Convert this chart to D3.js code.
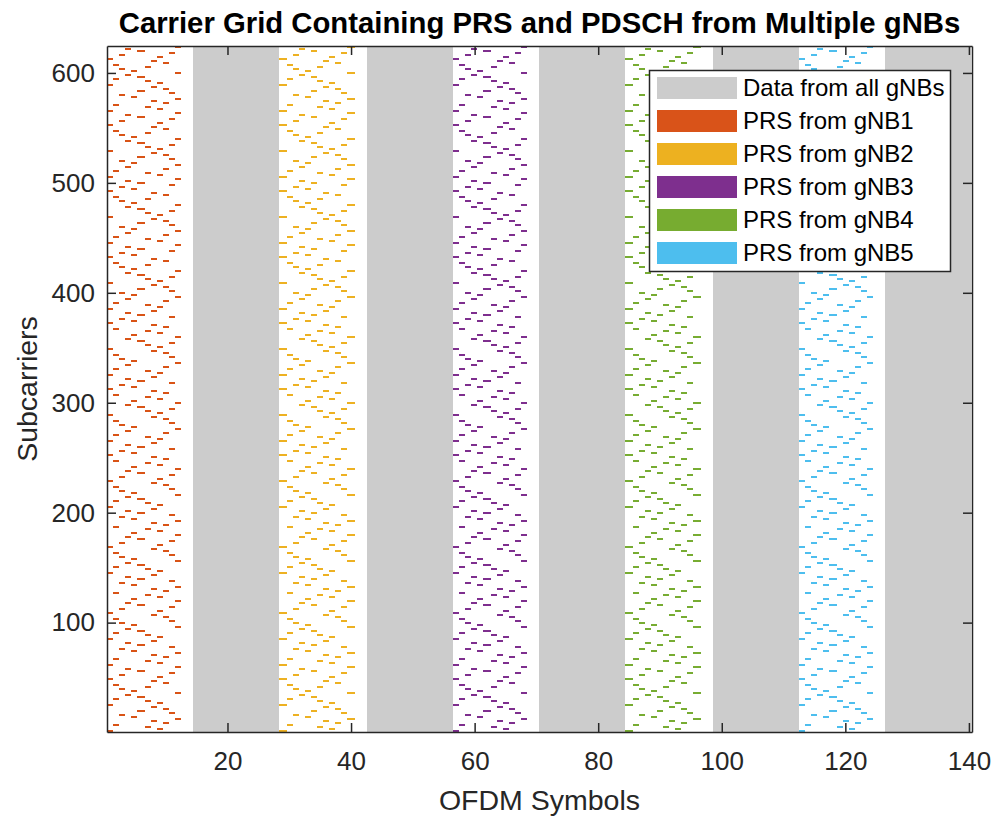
<!DOCTYPE html>
<html><head><meta charset="utf-8">
<script src="https://cdn.jsdelivr.net/npm/d3@7/dist/d3.min.js"></script>
<style>
body{margin:0;background:#fff}
text{font-family:"Liberation Sans", Arial, Helvetica, sans-serif}
</style>
</head><body>
<svg id="chart" width="992" height="817"></svg>
<script>
// ---------------- data ----------------
const numSymbols = 140;            // OFDM symbols (10 slots x 14 symbols)
const symbolsPerSlot = 14;
const numSubcarriers = 624;        // 52 RB x 12 subcarriers
const combSize = 12;               // PRS comb size
const prsSymbolStart = 0;          // first PRS symbol in slot
const prsREOffsets = [0, 6, 3, 9, 1, 7, 4, 10, 2, 8, 5, 11]; // k' for each PRS symbol
const gNBNames = ["gNB1", "gNB2", "gNB3", "gNB4", "gNB5"];
const prsSlotOffsets = [0, 2, 4, 6, 8];   // slot carrying PRS for each gNB
const dataSlots = [1, 3, 5, 7, 9];        // slots carrying data from all gNBs
const legendLabels = ["Data from all gNBs", "PRS from gNB1", "PRS from gNB2",
                      "PRS from gNB3", "PRS from gNB4", "PRS from gNB5"];
const legendColors = ["#cccccc", "#d95319", "#edb120", "#7e2f8e", "#77ac30", "#4dbeee"];
const xTickValues = [20, 40, 60, 80, 100, 120, 140];
const yTickValues = [100, 200, 300, 400, 500, 600];
const titleText = "Carrier Grid Containing PRS and PDSCH from Multiple gNBs";
const xLabelText = "OFDM Symbols";
const yLabelText = "Subcarriers";

// ---------------- layout ----------------
const M = {left: 107, right: 972, top: 46, bottom: 732};
const svg = d3.select("#chart");
const axisColor = "#262626";

const x = d3.scaleLinear().domain([0.5, numSymbols + 0.5]).range([M.left, M.right]);
const y = d3.scaleLinear().domain([0.5, numSubcarriers + 0.5]).range([M.bottom, M.top]);

// grid value: 0 empty, 1 data, 2.. PRS of gNB
function gridValue(sym, sc) {
  const slot = Math.floor((sym - 1) / symbolsPerSlot);
  if (dataSlots.includes(slot)) return 1;
  const g = prsSlotOffsets.indexOf(slot);
  if (g < 0) return 0;
  const l = (sym - 1) % symbolsPerSlot - prsSymbolStart;
  if (l < 0 || l >= prsREOffsets.length) return 0;
  return ((sc - 1) % combSize) === prsREOffsets[l] ? g + 2 : 0;
}

// image rendered on a coarse pixel raster (nearest neighbour), like the original
const PX = 2, phaseY = -0.05;
const cols = [];
for (let cx = M.left; cx + PX <= M.right + 0.01; cx += PX) {
  cols.push({x0: cx, x1: cx + PX, sym: Math.min(numSymbols, Math.max(1, Math.round(x.invert(cx + PX / 2))))});
}
const rows = [];
for (let ey = phaseY + PX * Math.floor((M.top - phaseY) / PX); ey < M.bottom; ey += PX) {
  const cy = ey + PX / 2;
  if (cy < M.top || cy > M.bottom) continue;
  rows.push({y0: Math.max(ey, M.top), y1: Math.min(ey + PX, M.bottom),
             sc: Math.min(numSubcarriers, Math.max(1, Math.round(y.invert(cy))))});
}

// data slots (full height)
const dataRects = dataSlots.map(s => {
  const c = cols.filter(d => Math.floor((d.sym - 1) / symbolsPerSlot) === s);
  return {x0: c[0].x0, x1: c[c.length - 1].x1};
});

// PRS runs
const prsRects = [];
rows.forEach(r => {
  let run = null;
  cols.forEach(c => {
    const v = gridValue(c.sym, r.sc);
    if (v >= 2) {
      if (run && run.v === v && run.x1 === c.x0) run.x1 = c.x1;
      else { run = {x0: c.x0, x1: c.x1, y0: r.y0, y1: r.y1, v}; prsRects.push(run); }
    } else run = null;
  });
});

const defs = svg.append("defs");
defs.append("filter").attr("id", "soft").attr("x", "-5%").attr("y", "-5%")
  .attr("width", "110%").attr("height", "110%")
  .append("feGaussianBlur").attr("stdDeviation", 0.45);

const gPlot = svg.append("g");
gPlot.append("rect").attr("x", M.left).attr("y", M.top)
  .attr("width", M.right - M.left).attr("height", M.bottom - M.top).attr("fill", "#fff");
gPlot.selectAll("rect.data").data(dataRects).join("rect").attr("class", "data")
  .attr("x", d => d.x0).attr("width", d => d.x1 - d.x0)
  .attr("y", M.top).attr("height", M.bottom - M.top)
  .attr("fill", legendColors[0]);
gPlot.append("g").attr("filter", "url(#soft)")
  .selectAll("rect.prs").data(prsRects).join("rect").attr("class", "prs")
  .attr("x", d => d.x0).attr("width", d => d.x1 - d.x0)
  .attr("y", d => d.y0).attr("height", d => d.y1 - d.y0)
  .attr("fill", d => legendColors[d.v - 1])
  .attr("shape-rendering", "crispEdges");

// ---------------- axes ----------------
const tickLen = 9;
function styleAxis(g) {
  g.selectAll("path.domain").attr("stroke", axisColor).attr("stroke-width", 1.5);
  g.selectAll(".tick line").attr("stroke", axisColor).attr("stroke-width", 1.5);
  g.selectAll(".tick text").attr("fill", axisColor).attr("font-size", 26);
}
svg.append("g").attr("transform", `translate(0,${M.bottom})`)
  .call(d3.axisBottom(x).tickValues(xTickValues).tickSizeInner(-tickLen).tickSizeOuter(0).tickPadding(20))
  .call(styleAxis);
svg.append("g").attr("transform", `translate(0,${M.top})`)
  .call(d3.axisTop(x).tickValues(xTickValues).tickSizeInner(-tickLen).tickSizeOuter(0).tickFormat(""))
  .call(styleAxis);
svg.append("g").attr("transform", `translate(${M.left},0)`)
  .call(d3.axisLeft(y).tickValues(yTickValues).tickSizeInner(-tickLen).tickSizeOuter(0).tickPadding(12))
  .call(styleAxis);
svg.append("g").attr("transform", `translate(${M.right},0)`)
  .call(d3.axisRight(y).tickValues(yTickValues).tickSizeInner(-tickLen).tickSizeOuter(0).tickFormat(""))
  .call(styleAxis);
svg.selectAll(".domain").attr("fill", "none");

// ---------------- labels ----------------
svg.append("text").attr("x", (M.left + M.right) / 2).attr("y", 33)
  .attr("text-anchor", "middle").attr("font-size", 29.3).attr("font-weight", "bold")
  .attr("fill", "#000").text(titleText);
svg.append("text").attr("x", (M.left + M.right) / 2).attr("y", 810)
  .attr("text-anchor", "middle").attr("font-size", 28.5).attr("fill", axisColor).text(xLabelText);
svg.append("text").attr("transform", `translate(37,${(M.top + M.bottom) / 2}) rotate(-90)`)
  .attr("text-anchor", "middle").attr("font-size", 28.5).attr("fill", axisColor).text(yLabelText);

// ---------------- legend ----------------
const lg = svg.append("g");
lg.append("rect").attr("x", 649.5).attr("y", 70.5).attr("width", 301).attr("height", 201)
  .attr("fill", "#fff").attr("stroke", axisColor).attr("stroke-width", 1.5);
const items = lg.selectAll("g.item").data(legendLabels).join("g").attr("class", "item")
  .attr("transform", (d, i) => `translate(0,${88 + i * 33})`);
items.append("rect").attr("x", 657).attr("y", -11).attr("width", 80).attr("height", 22)
  .attr("fill", (d, i) => legendColors[i]);
items.append("text").attr("x", 743).attr("y", 0).attr("dy", "0.35em")
  .attr("font-size", 24).attr("fill", "#000").text(d => d);
</script>
</body></html>
